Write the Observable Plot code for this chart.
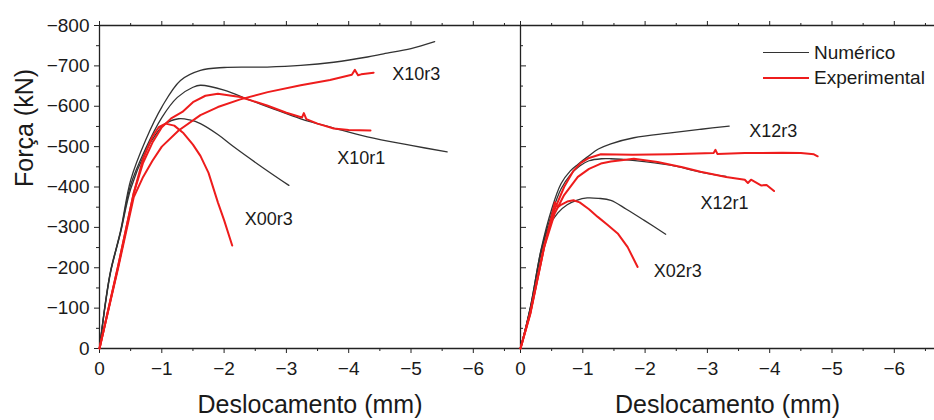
<!DOCTYPE html>
<html>
<head>
<meta charset="utf-8">
<script src="https://cdn.jsdelivr.net/npm/d3@7"></script>
<script src="https://cdn.jsdelivr.net/npm/@observablehq/plot@0.6"></script>
<style>
  body { margin: 0; background: #fff; }
  #wrap { position: relative; width: 934px; height: 420px; overflow: hidden; background: #fff;
          font-family: "Liberation Sans", Arial, sans-serif; color: #1a1a1a; }
  #left, #right { position: absolute; top: 0; }
  #left { left: 0; }
  #right { left: 519px; }
  #legend { position: absolute; left: 763px; top: 40px; font-size: 19px; line-height: 25px; }
  #legend .item { display: flex; align-items: center; height: 25px; }
  #legend .sw { width: 46px; margin-right: 5px; }
</style>
</head>
<body>
<div id="wrap">
  <div id="left"></div>
  <div id="right"></div>
  <div id="legend"></div>
</div>
<script>
// ---- axis ticks ----
const xTicks = [0, -1, -2, -3, -4, -5, -6];
const xMinor = [-0.5, -1.5, -2.5, -3.5, -4.5, -5.5, -6.5];
const yTicks = [0, -100, -200, -300, -400, -500, -600, -700, -800];
const yMinor = [-50, -150, -250, -350, -450, -550, -650, -750];

const seriesNames = ["Numérico", "Experimental"];
const seriesColors = ["#333333", "#ee1c1c"];

// ---- left panel: numerical ----
const x10r3NumX = [0, -0.1, -0.18, -0.34, -0.5, -0.74, -1.0, -1.3, -1.62, -2.0, -2.69, -3.23, -3.76, -4.3, -4.56, -5.0, -5.38];
const x10r3NumF = [0, -120, -194, -293, -417, -516, -598, -664, -689, -696, -697, -701, -709, -722, -730, -743, -760];
const x10r1NumX = [0, -0.1, -0.18, -0.34, -0.5, -0.74, -1.0, -1.25, -1.5, -1.62, -2.0, -2.42, -2.8, -3.23, -3.76, -4.3, -5.0, -5.58];
const x10r1NumF = [0, -118, -192, -290, -405, -495, -572, -622, -647, -652, -640, -615, -593, -569, -546, -524, -503, -487];
const x00r3NumX = [0, -0.1, -0.18, -0.34, -0.5, -0.74, -0.9, -1.05, -1.27, -1.45, -1.62, -1.9, -2.16, -2.64, -3.04];
const x00r3NumF = [0, -115, -190, -288, -395, -488, -530, -556, -569, -566, -557, -530, -499, -446, -404];
// ---- left panel: experimental ----
const x10r3ExpX = [0, -0.3, -0.55, -0.7, -0.85, -1.0, -1.27, -1.62, -1.9, -2.26, -2.7, -3.23, -3.7, -4.05, -4.1, -4.15, -4.2, -4.4];
const x10r3ExpF = [0, -200, -375, -425, -465, -500, -540, -578, -598, -617, -635, -652, -665, -678, -690, -677, -679, -683];
const x10r1ExpX = [0, -0.3, -0.55, -0.7, -0.85, -1.0, -1.15, -1.33, -1.5, -1.7, -1.9, -2.26, -2.69, -3.0, -3.25, -3.28, -3.32, -3.5, -3.76, -4.0, -4.35];
const x10r1ExpF = [0, -205, -385, -460, -510, -548, -570, -586, -610, -626, -631, -623, -602, -584, -572, -583, -568, -557, -545, -541, -540];
const x00r3ExpX = [0, -0.3, -0.55, -0.7, -0.85, -0.95, -1.06, -1.2, -1.35, -1.5, -1.62, -1.75, -1.9, -2.0, -2.13];
const x00r3ExpF = [0, -205, -385, -470, -525, -548, -557, -552, -533, -505, -477, -435, -362, -318, -255];

// ---- right panel: numerical ----
const x12r3NumX = [0, -0.16, -0.33, -0.5, -0.65, -0.8, -0.92, -1.07, -1.25, -1.45, -1.82, -2.41, -2.9, -3.35];
const x12r3NumF = [0, -103, -245, -345, -408, -440, -456, -474, -494, -507, -522, -534, -543, -551];
const x12r1NumX = [0, -0.16, -0.33, -0.5, -0.65, -0.8, -0.95, -1.1, -1.3, -1.45, -1.8, -2.41, -2.89, -3.3];
const x12r1NumF = [0, -103, -243, -334, -395, -430, -452, -465, -470, -470, -466, -454, -437, -426];
const x02r3NumX = [0, -0.16, -0.33, -0.45, -0.6, -0.75, -0.9, -1.07, -1.25, -1.45, -1.7, -1.98, -2.33];
const x02r3NumF = [0, -100, -235, -300, -336, -356, -367, -373, -372, -367, -345, -318, -283];
// ---- right panel: experimental ----
const x12r3ExpX = [0, -0.16, -0.38, -0.55, -0.7, -0.85, -0.97, -1.1, -1.29, -1.8, -2.41, -3.1, -3.13, -3.16, -3.6, -4.2, -4.5, -4.71, -4.77];
const x12r3ExpF = [0, -90, -255, -345, -400, -440, -460, -472, -481, -480, -481, -484, -492, -482, -484, -485, -484, -481, -476];
const x12r1ExpX = [0, -0.16, -0.38, -0.55, -0.7, -0.92, -1.1, -1.29, -1.45, -1.82, -2.2, -2.6, -2.89, -3.3, -3.6, -3.65, -3.7, -3.86, -3.95, -4.07];
const x12r1ExpF = [0, -90, -251, -335, -380, -425, -445, -458, -463, -470, -462, -449, -438, -425, -418, -410, -418, -404, -405, -390];
const x02r3ExpX = [0, -0.16, -0.38, -0.52, -0.55, -0.6, -0.65, -0.75, -0.85, -0.95, -1.1, -1.24, -1.4, -1.56, -1.72, -1.88];
const x02r3ExpF = [0, -87, -251, -340, -362, -350, -356, -364, -367, -362, -345, -326, -306, -285, -251, -202];

// ---- curve labels ----
const leftLabels = ["X10r3", "X10r1", "X00r3"];
const leftLabelX = [-4.70, -3.815, -2.33];
const leftLabelF = [-680, -472, -320];
const rightLabels = ["X12r3", "X12r1", "X02r3"];
const rightLabelX = [-3.67, -2.89, -2.14];
const rightLabelF = [-537, -360, -191];

const xTitle = "Deslocamento (mm)";
const yTitle = "Força (kN)";

// ---- build tables ----
function rows(name, type, xs, fs) { return xs.map((x, i) => ({name, type, x, f: fs[i]})); }
const leftNum = [...rows("X10r3", 0, x10r3NumX, x10r3NumF), ...rows("X10r1", 0, x10r1NumX, x10r1NumF), ...rows("X00r3", 0, x00r3NumX, x00r3NumF)];
const leftExp = [...rows("X10r3", 1, x10r3ExpX, x10r3ExpF), ...rows("X10r1", 1, x10r1ExpX, x10r1ExpF), ...rows("X00r3", 1, x00r3ExpX, x00r3ExpF)];
const rightNum = [...rows("X12r3", 0, x12r3NumX, x12r3NumF), ...rows("X12r1", 0, x12r1NumX, x12r1NumF), ...rows("X02r3", 0, x02r3NumX, x02r3NumF)];
const rightExp = [...rows("X12r3", 1, x12r3ExpX, x12r3ExpF), ...rows("X12r1", 1, x12r1ExpX, x12r1ExpF), ...rows("X02r3", 1, x02r3ExpX, x02r3ExpF)];
const leftLab = leftLabels.map((t, i) => ({t, x: leftLabelX[i], f: leftLabelF[i]}));
const rightLab = rightLabels.map((t, i) => ({t, x: rightLabelX[i], f: rightLabelF[i]}));

const PX_PER_MM = 62.3;
const H = 420, MT = 25, MB = 72;
const axisColor = "#222";
const fmt = d3.format("d");
const font = "'Liberation Sans', Arial, sans-serif";

function panel({width, marginLeft, marginRight, numData, expData, labels, left}) {
  const span = (width - marginLeft - marginRight) / PX_PER_MM;
  const marks = [
    Plot.ruleY([yTicks[0]], {stroke: axisColor, strokeWidth: 1.3}),
    Plot.ruleY([yTicks[yTicks.length - 1]], {stroke: axisColor, strokeWidth: 1.3}),
    Plot.ruleX([xTicks[0]], {stroke: axisColor, strokeWidth: 1.3}),
    // bottom axis
    Plot.axisX(xTicks, {anchor: "bottom", tickSize: 5, tickPadding: 8, tickFormat: fmt, fontSize: 19, stroke: axisColor, fill: "#1a1a1a", label: null}),
    Plot.axisX(xMinor, {anchor: "bottom", tickSize: 3, text: null, stroke: axisColor, label: null}),
    // top axis
    Plot.axisX(xTicks, {anchor: "top", tickSize: 5, text: null, stroke: axisColor, label: null}),
    Plot.axisX(xMinor, {anchor: "top", tickSize: 3, text: null, stroke: axisColor, label: null}),
    // left axis
    left
      ? Plot.axisY(yTicks, {anchor: "left", tickSize: 5, tickPadding: 5, tickFormat: fmt, fontSize: 19, stroke: axisColor, fill: "#1a1a1a", label: null})
      : Plot.axisY(yTicks, {anchor: "left", tickSize: -6, text: null, stroke: axisColor, label: null}),
    Plot.axisY(yMinor, {anchor: "left", tickSize: left ? 3 : -3, text: null, stroke: axisColor, label: null}),
    // curves
    Plot.line(numData, {x: "x", y: "f", z: "name", stroke: seriesColors[0], strokeWidth: 1.3, curve: "catmull-rom"}),
    Plot.line(expData, {x: "x", y: "f", z: "name", stroke: seriesColors[1], strokeWidth: 2, curve: "linear"}),
    Plot.text(labels, {x: "x", y: "f", text: "t", textAnchor: "start", lineAnchor: "middle", fontSize: 18, fill: "#1a1a1a"}),
    // x title
    Plot.text([xTitle], {frameAnchor: "bottom", dy: 56, lineAnchor: "middle", fontSize: 25, fill: "#1a1a1a"})
  ];
  if (left) marks.push(Plot.text([yTitle], {frameAnchor: "left", dx: -75, rotate: -90, lineAnchor: "middle", fontSize: 25, fill: "#1a1a1a"}));
  return Plot.plot({
    width, height: H,
    marginLeft, marginRight, marginTop: MT, marginBottom: MB,
    style: {fontFamily: font, background: "transparent", overflow: "visible", color: "#1a1a1a"},
    x: {domain: [0, -span]},
    y: {domain: [yTicks[0], yTicks[yTicks.length - 1]]},
    marks
  });
}

document.getElementById("left").append(panel({width: 520, marginLeft: 99, marginRight: 0, numData: leftNum, expData: leftExp, labels: leftLab, left: true}));
document.getElementById("right").append(panel({width: 415, marginLeft: 1, marginRight: 0, numData: rightNum, expData: rightExp, labels: rightLab, left: false}));

// legend
const leg = document.getElementById("legend");
seriesNames.forEach((n, i) => {
  const item = document.createElement("div");
  item.className = "item";
  const sw = document.createElement("div");
  sw.className = "sw";
  sw.style.borderTop = (i === 0 ? 1.3 : 2) + "px solid " + seriesColors[i];
  const t = document.createElement("span");
  t.textContent = n;
  item.append(sw, t);
  leg.append(item);
});
</script>
</body>
</html>
